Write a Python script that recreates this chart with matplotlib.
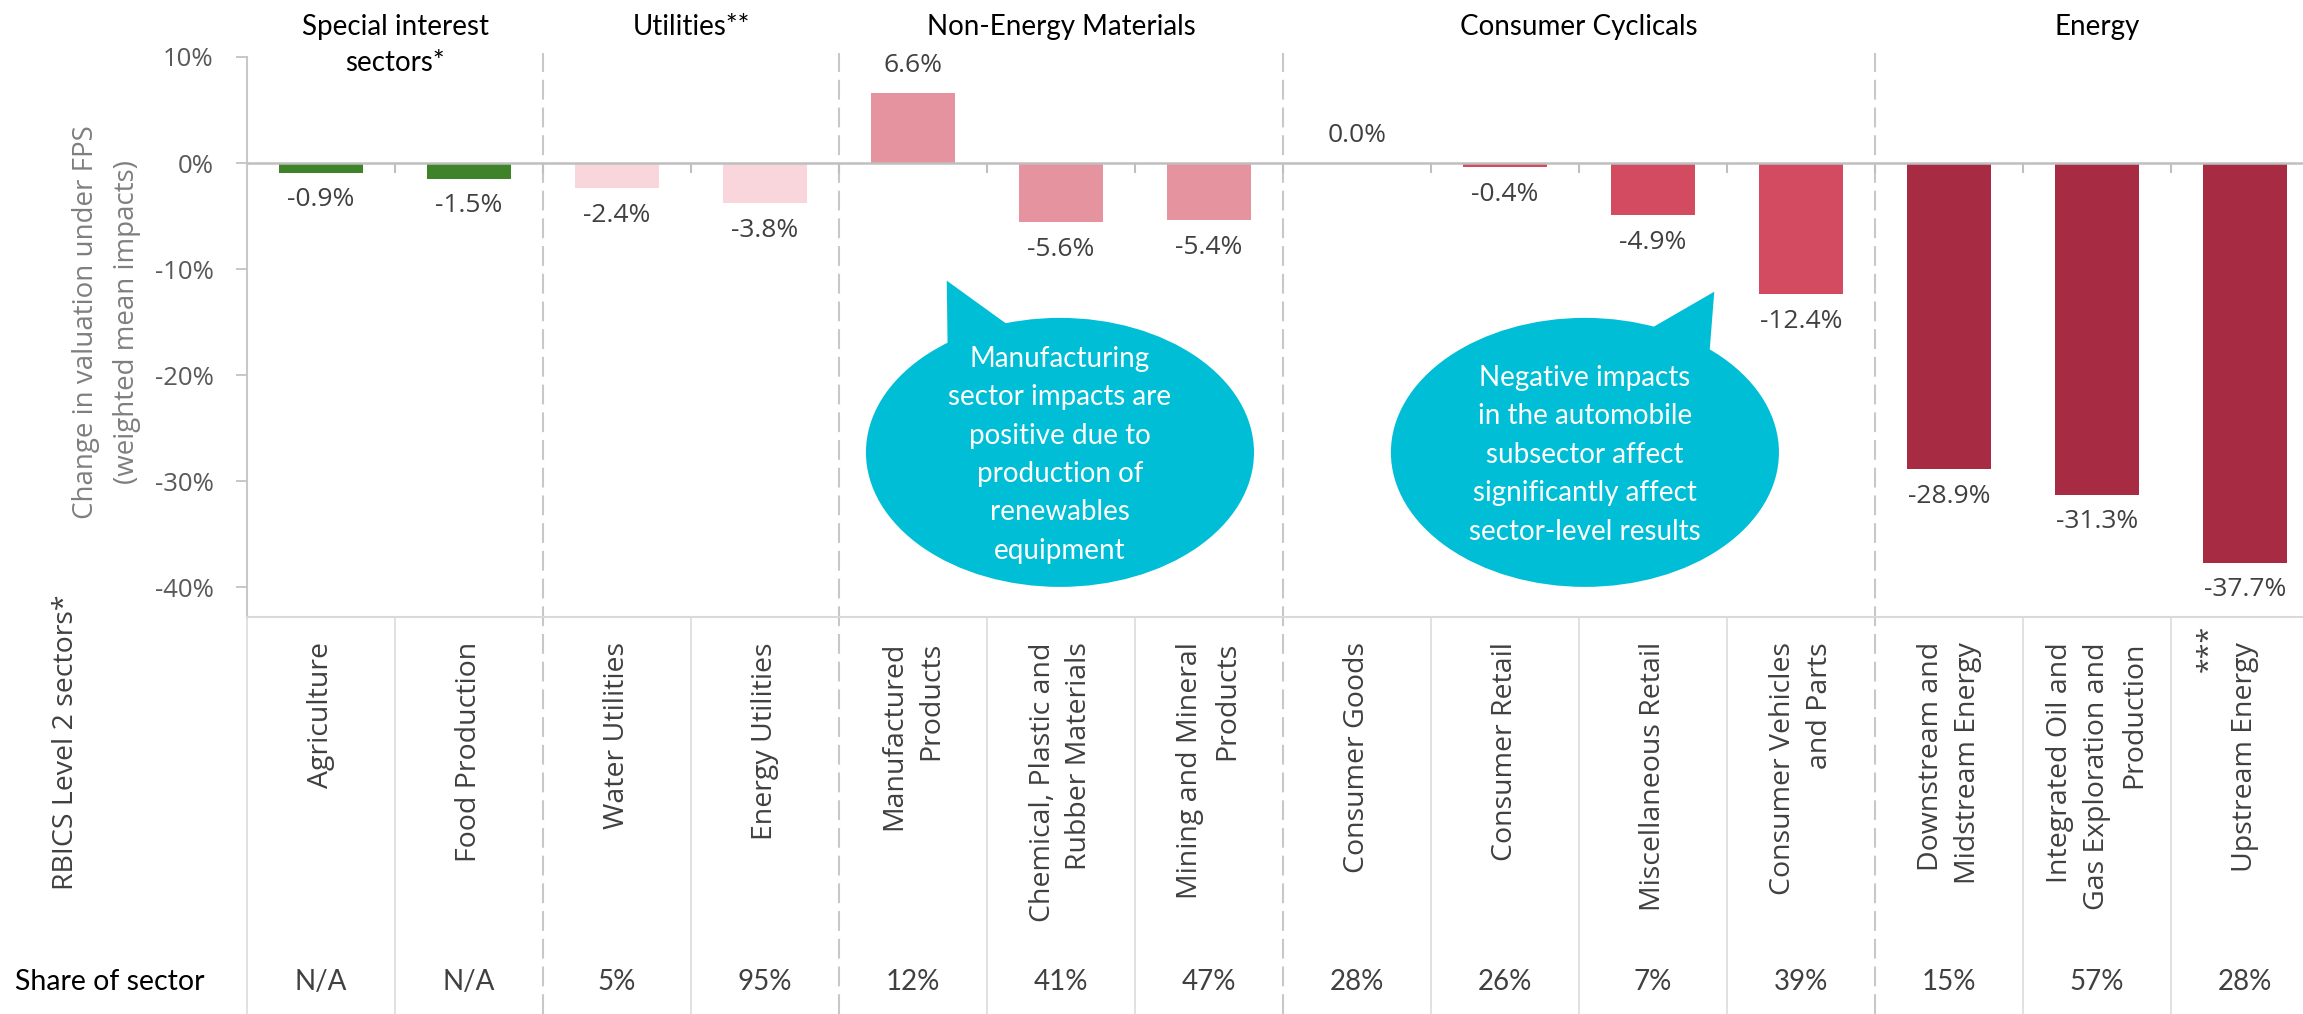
import numpy as np
import matplotlib
matplotlib.use("Agg")
import matplotlib.pyplot as plt
from matplotlib.patches import Ellipse, Polygon
from matplotlib.transforms import blended_transform_factory

plt.rcParams['font.family'] = ['Open Sans', 'DejaVu Sans']

# chart data
categories = ["Agriculture", "Food Production", "Water Utilities", "Energy Utilities",
              "Manufactured\nProducts", "Chemical, Plastic and\nRubber Materials",
              "Mining and Mineral\nProducts", "Consumer Goods", "Consumer Retail",
              "Miscellaneous Retail", "Consumer Vehicles\nand Parts",
              "Downstream and\nMidstream Energy",
              "Integrated Oil and\nGas Exploration and\nProduction", "Upstream Energy"]
values = [-0.9, -1.5, -2.4, -3.8, 6.6, -5.6, -5.4, 0.0, -0.4, -4.9, -12.4, -28.9, -31.3, -37.7]
shares = ["N/A", "N/A", "5%", "95%", "12%", "41%", "47%", "28%", "26%", "7%", "39%",
          "15%", "57%", "28%"]
groups = ["Special interest\nsectors*", "Utilities**", "Non-Energy Materials",
          "Consumer Cyclicals", "Energy"]
group_sizes = [2, 2, 3, 4, 3]
group_colors = ["#3E8229", "#F8D6DB", "#E4939F", "#D24B61", "#A62B43"]
yticks = [10, 0, -10, -20, -30, -40]

note_left = ["Manufacturing", "sector impacts are", "positive due to", "production of",
             "renewables", "equipment"]
note_right = ["Negative impacts", "in the automobile", "subsector affect",
              "significantly affect", "sector-level results"]

# layout (pixels of the 2303x1014 picture)
W, H = 2303, 1014
left_px, col_px, top_px, base_px = 247, 148, 57, 617
px_per_pct = (base_px - top_px) / 52.83

fig = plt.figure(figsize=(W / 100, H / 100), dpi=100)
ax = fig.add_axes([left_px / W, 1 - base_px / H, 1 - left_px / W, (base_px - top_px) / H])
ax.set_xlim(-0.5, -0.5 + (W - left_px) / col_px)
ax.set_ylim(-42.83, 10)
trans = blended_transform_factory(ax.transData, fig.transFigure)

x = np.arange(len(values))
colors = np.repeat(group_colors, group_sizes)
ax.bar(x, values, width=0.57, color=colors, zorder=2)

# value labels
for xi, v in zip(x, values):
    off = 20 if v >= 0 else -19.5
    ax.annotate(f"{v:.1f}%", (xi, v), xytext=(0, off), textcoords='offset points',
                ha='center', va='center', fontsize=19, color='#404040')

ax.axhline(0, color='#BFBFBF', lw=1.8, zorder=3)
ax.vlines(x[:-1] + 0.5, -10 / px_per_pct, 0, color='#BFBFBF', lw=1.5, zorder=3)

for s in ['top', 'right']:
    ax.spines[s].set_visible(False)
ax.spines['left'].set_color('#C8C8C8')
ax.spines['left'].set_linewidth(1.5)
ax.spines['bottom'].set_color('#D9D9D9')
ax.spines['bottom'].set_linewidth(1.5)

ax.set_xticks([])
ax.set_yticks(yticks)
ax.set_yticklabels([f"{t}%" for t in yticks])
ax.tick_params(axis='y', length=8, width=1.2, color='#BFBFBF', labelcolor='#595959',
               labelsize=18.5, pad=16)

# table lines and group separators
edges = list(np.cumsum(group_sizes)[:-1] - 0.5)
for b in x - 0.5:
    if b in edges:
        continue
    ax.plot([b, b], [0, 1 - base_px / H], transform=trans, color='#D9D9D9', lw=1.1,
            clip_on=False, zorder=1)
for g in edges:
    ax.plot([g, g], [0, 1 - 53 / H], transform=trans, color='#C8C8C8', lw=1.5,
            ls=(0, (9.5, 3.8)), clip_on=False, zorder=1)

# group headers
start = 0
for name, size in zip(groups, group_sizes):
    center = start + size / 2 - 0.5
    for k, line in enumerate(name.split("\n")):
        ax.text(center, 1 - (27 + 36 * k) / H, line, transform=trans, ha='center',
                va='center', fontsize=20, family=['Lato', 'DejaVu Sans'], color='black')
    start += size

# category labels (rotated)
for i, cat in enumerate(categories):
    lines = cat.split("\n")
    n = len(lines)
    for k, line in enumerate(lines):
        dx = (k - (n - 1) / 2) * 37 / col_px
        ax.text(i + dx, 1 - 642 / H, line, transform=trans, rotation=90, ha='center',
                va='top', fontsize=20.5, color='#404040')
ax.text(len(categories) - 1 - 35 / col_px, 1 - 625 / H, "***", transform=trans,
        rotation=90, ha='center', va='top', fontsize=20.5, color='#404040')

# share row
for i, s in enumerate(shares):
    ax.text(i, 1 - 982 / H, s, transform=trans, ha='center', va='center', fontsize=20,
            family=['Lato', 'DejaVu Sans'], color='#404040')
fig.text(15 / W, 1 - 982 / H, "Share of sector", ha='left', va='center', fontsize=20.5,
         family=['Lato', 'DejaVu Sans'], color='black')
fig.text(66 / W, 1 - 742 / H, "RBICS Level 2 sectors*", rotation=90, ha='center',
         va='center', fontsize=20.5, color='#404040')
fig.text(86 / W, 1 - 322 / H, "Change in valuation under FPS", rotation=90, ha='center',
         va='center', fontsize=20, color='#7F7F7F')
fig.text(127 / W, 1 - 322 / H, "(weighted mean impacts)", rotation=90, ha='center',
         va='center', fontsize=20, color='#7F7F7F')

# callout bubbles
cyan = '#00BED6'
rx, ry = 1.311, 12.69
bubbles = [((4.993, -27.3), [(4.228, -11.1), (4.234, -17.6), (4.674, -15.6)], note_left),
           ((8.54, -27.3), [(9.414, -12.14), (8.961, -15.8), (9.38, -18.2)], note_right)]
line_step = 38.4 / px_per_pct
for (cx, cy), tail, lines in bubbles:
    ax.add_patch(Ellipse((cx, cy), 2 * rx, 2 * ry, fc=cyan, ec='none', zorder=4))
    ax.add_patch(Polygon(tail, closed=True, fc=cyan, ec='none', zorder=4))
    n = len(lines)
    for k, line in enumerate(lines):
        ax.text(cx, cy + ((n - 1) / 2 - k) * line_step, line, ha='center',
                va='center_baseline', color='white', fontsize=20,
                family=['Lato', 'DejaVu Sans'], zorder=5)

fig.savefig("out.png", dpi=100)
